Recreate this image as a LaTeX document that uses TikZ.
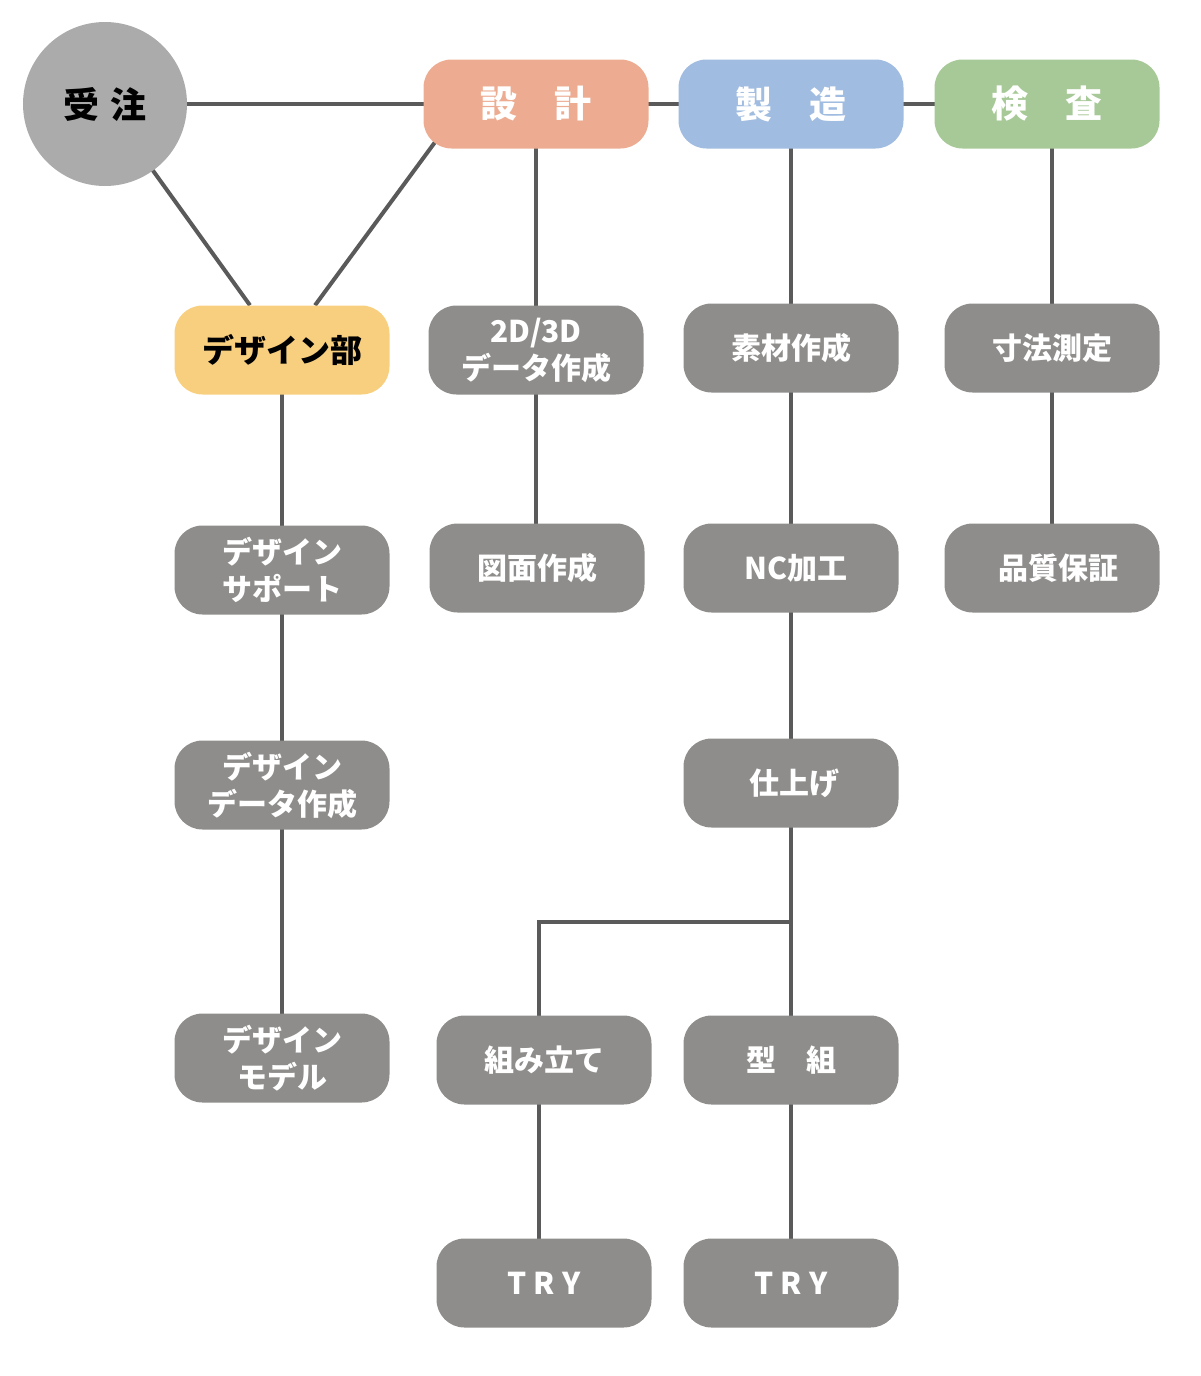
\documentclass[tikz,border=0pt]{standalone}
\usepackage{fontspec}
\setmainfont{Noto Sans CJK JP}
\usetikzlibrary{backgrounds,calc}
\definecolor{cju}{HTML}{ABABAB}
\definecolor{csk}{HTML}{EDAC91}
\definecolor{csm}{HTML}{A0BCE0}
\definecolor{ckn}{HTML}{A7C997}
\definecolor{cdz}{HTML}{F8CF7F}
\definecolor{cgr}{HTML}{8E8D8B}
\definecolor{cln}{HTML}{5A5A5A}
\tikzset{
  boxbase/.style={rectangle, rounded corners=28pt, minimum width=215pt, minimum height=89pt, inner sep=0pt, align=center},
  headbox/.style={boxbase, minimum width=225pt, text=white, font=\fontsize{37}{44}\selectfont\bfseries},
  graybox/.style={boxbase, fill=cgr, text=white, font=\fontsize{30}{37}\selectfont\bfseries},
  conn/.style={draw=cln, line width=4pt},
}
\begin{document}
\begin{tikzpicture}[x=1pt,y=-1pt]
\useasboundingbox (0,0) rectangle (1200,1376);
% top row
\node[circle, fill=cju, minimum size=164pt, inner sep=0pt, font=\fontsize{36}{40}\selectfont\bfseries] (ju) at (105,104) {受\hspace{11pt}注};
\node[headbox, fill=csk] (sk) at (536,104) {設　計};
\node[headbox, fill=csm] (sm) at (791,104) {製　造};
\node[headbox, fill=ckn] (kn) at (1047,104) {検　査};
% design column
\node[boxbase, fill=cdz, font=\fontsize{32}{38}\selectfont\bfseries] (dz) at (282,350) {デザイン部};
\node[graybox] (ds) at (282,570) {デザイン\\サポート};
\node[graybox] (dd) at (282,785) {デザイン\\データ作成};
\node[graybox] (dm) at (282,1058) {デザイン\\モデル};
% design dept column
\node[graybox] (d2) at (536,350) {2D/3D\\データ作成};
\node[graybox] (zm) at (537,568) {図面作成};
% manufacturing column
\node[graybox] (sz) at (791,348) {素材作成};
\node[graybox] (nc) at (791,568) {\hspace{10pt}NC加工};
\node[graybox] (sa) at (791,783) {\hspace{6pt}仕上げ};
\node[graybox] (ku) at (544,1060) {組み立て};
\node[graybox] (kg) at (791,1060) {型　組};
\node[graybox] (t1) at (544,1283) {T\hspace{7pt}R\hspace{7pt}Y};
\node[graybox] (t2) at (791,1283) {T\hspace{7pt}R\hspace{7pt}Y};
% inspection column
\node[graybox] (sn) at (1052,348) {寸法測定};
\node[graybox] (hs) at (1052,568) {\hspace{12pt}品質保証};
% connectors
\coordinate (br) at (791,922);
\coordinate (kux) at (539,0);
\begin{pgfonlayer}{background}
\draw[conn] (ju.center) -- (kn.center);
\draw[conn] (ju.center) -- ($(dz.north)+(-32,0)$);
\draw[conn] ($(sk.south west)+(26,-26)$) -- ($(dz.north)+(33,0)$);
\draw[conn] (dz.center) -- (dm.center);
\draw[conn] (sk.center) -- (sk.center |- zm.center);
\draw[conn] (sm.center) -- (t2.center);
\draw[conn] (sn.center) -- (hs.center);
\draw[conn] (sn.center) -- (sn.center |- kn.center);
\draw[conn] (br) -| (kux |- ku.center) -- (kux |- t1.center);
\end{pgfonlayer}
\end{tikzpicture}
\end{document}
